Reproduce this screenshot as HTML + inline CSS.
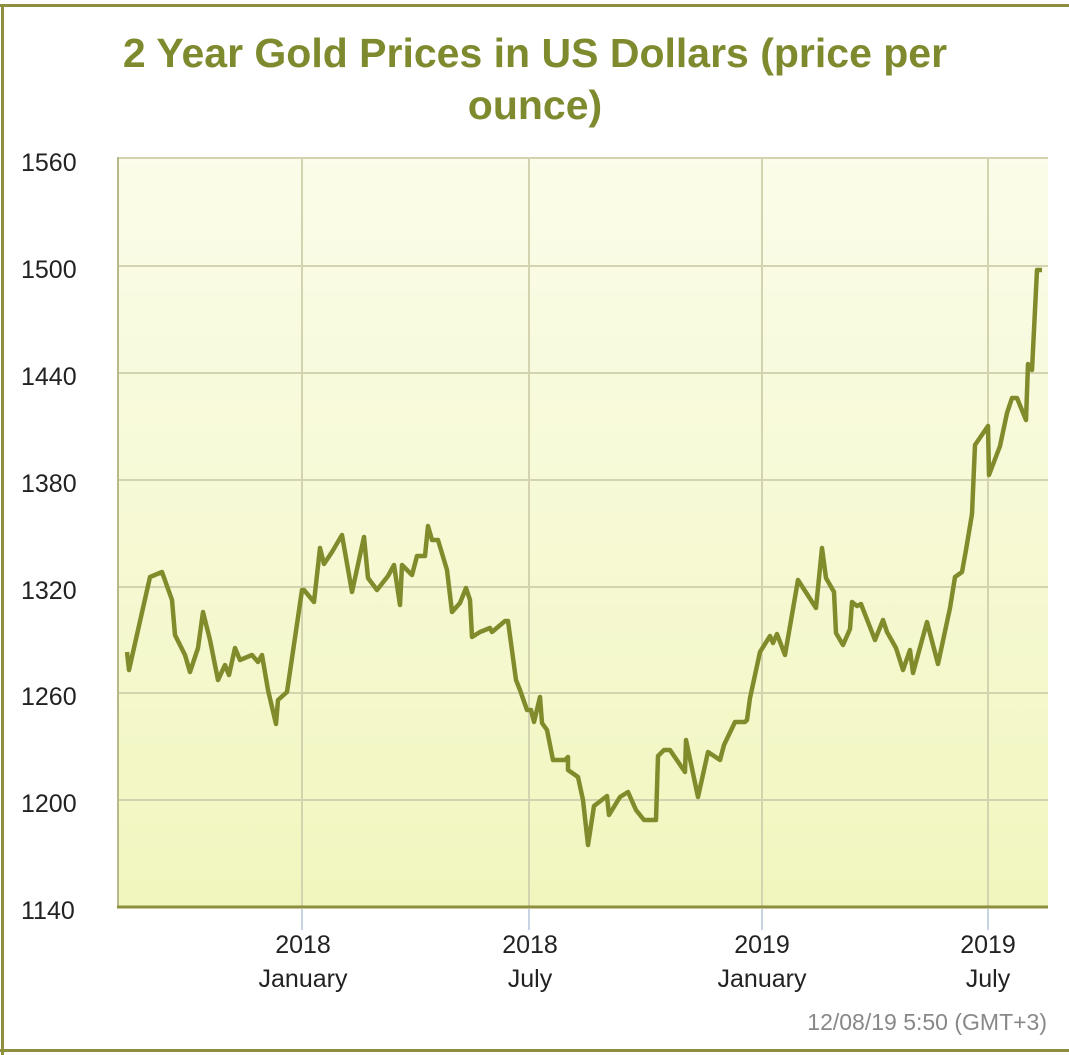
<!DOCTYPE html>
<html><head><meta charset="utf-8"><style>
html,body{margin:0;padding:0;background:#fff;}
body{width:1069px;height:1055px;overflow:hidden;position:relative;font-family:"Liberation Sans",sans-serif;}
</style></head><body>
<svg width="1069" height="1055" xmlns="http://www.w3.org/2000/svg" style="position:absolute;left:0;top:0">
<defs><linearGradient id="g" x1="0" y1="0" x2="0" y2="1"><stop offset="0" stop-color="#fbfce9"/><stop offset="1" stop-color="#f1f6be"/></linearGradient></defs>
<rect x="0" y="4" width="1069" height="3" fill="#8c8f3e"/>
<rect x="1" y="4" width="3" height="1051" fill="#8c8f3e"/>
<rect x="0" y="1049" width="1069" height="3" fill="#8c8f3e"/>
<text x="535" y="67" text-anchor="middle" font-size="41" font-weight="bold" fill="#7f8a2e">2 Year Gold Prices in US Dollars (price per</text>
<text x="535" y="119" text-anchor="middle" font-size="41" font-weight="bold" fill="#7f8a2e">ounce)</text>
<rect x="118" y="158" width="930" height="749" fill="url(#g)"/>
<g stroke="#d3d3b0" stroke-width="2">
<line x1="118" y1="158" x2="1048" y2="158"/><line x1="118" y1="266" x2="1048" y2="266"/><line x1="118" y1="373" x2="1048" y2="373"/><line x1="118" y1="480" x2="1048" y2="480"/><line x1="118" y1="587" x2="1048" y2="587"/><line x1="118" y1="693" x2="1048" y2="693"/><line x1="118" y1="800" x2="1048" y2="800"/>
<line x1="302" y1="158" x2="302" y2="907"/><line x1="529" y1="158" x2="529" y2="907"/><line x1="762" y1="158" x2="762" y2="907"/><line x1="988" y1="158" x2="988" y2="907"/>
</g>
<line x1="118" y1="157" x2="118" y2="908" stroke="#b8b98a" stroke-width="2"/>
<line x1="117" y1="907" x2="1048" y2="907" stroke="#8c8f3e" stroke-width="3"/>
<g stroke="#c8d4e6" stroke-width="2"><line x1="302" y1="909" x2="302" y2="930"/><line x1="529" y1="909" x2="529" y2="930"/><line x1="762" y1="909" x2="762" y2="930"/><line x1="988" y1="909" x2="988" y2="930"/></g>
<g font-size="25" fill="#222">
<text x="21" y="171">1560</text><text x="21" y="278">1500</text><text x="21" y="385">1440</text><text x="21" y="492">1380</text><text x="21" y="599">1320</text><text x="21" y="705">1260</text><text x="21" y="812">1200</text><text x="21" y="919">1140</text>
</g>
<g font-size="25" fill="#222" text-anchor="middle">
<text x="303" y="953">2018</text><text x="303" y="987">January</text>
<text x="530" y="953">2018</text><text x="530" y="987">July</text>
<text x="762" y="953">2019</text><text x="762" y="987">January</text>
<text x="988" y="953">2019</text><text x="988" y="987">July</text>
</g>
<text x="1047" y="1030" text-anchor="end" font-size="23" fill="#888">12/08/19 5:50 (GMT+3)</text>
<polyline fill="none" stroke="#828b2c" stroke-width="4.5" stroke-linejoin="round" points="127,652 129,670 150,577 162,572 172,600 175,635 185,655 190,672 198,648 203,612 210,640 218,680 225,665 229,675 235,648 240,660 252,655 258,662 262,655 268,690 276,724 278,700 287,692 302,590 304,590 314,602 320,548 324,564 332,552 342,535 352,592 364,537 368,578 377,590 388,576 394,565 400,605 402,565 412,575 417,556 425,556 428,526 432,540 438,540 447,570 452,612 460,603 466,588 470,600 472,637 480,632 490,628 492,632 505,621 508,621 516,680 520,690 527,710 531,710 534,722 540,697 542,723 547,730 553,760 565,760 568,757 568,770 578,777 583,800 588,845 594,806 607,796 609,815 620,797 628,792 636,810 644,820 656,820 658,756 664,750 670,750 685,772 686,740 698,797 708,752 714,756 720,760 724,745 735,722 745,722 747,720 750,698 760,652 770,636 773,643 777,634 785,655 798,580 816,608 822,548 826,578 834,592 836,633 843,645 850,629 852,602 857,606 861,604 875,640 883,620 887,632 896,648 903,670 910,650 913,673 927,622 938,664 950,608 955,577 962,572 966,550 972,514 975,445 988,426 989,475 1000,446 1007,413 1012,398 1017,398 1026,420 1028,364 1032,370 1037,270 1042,270"/>
</svg>
</body></html>
